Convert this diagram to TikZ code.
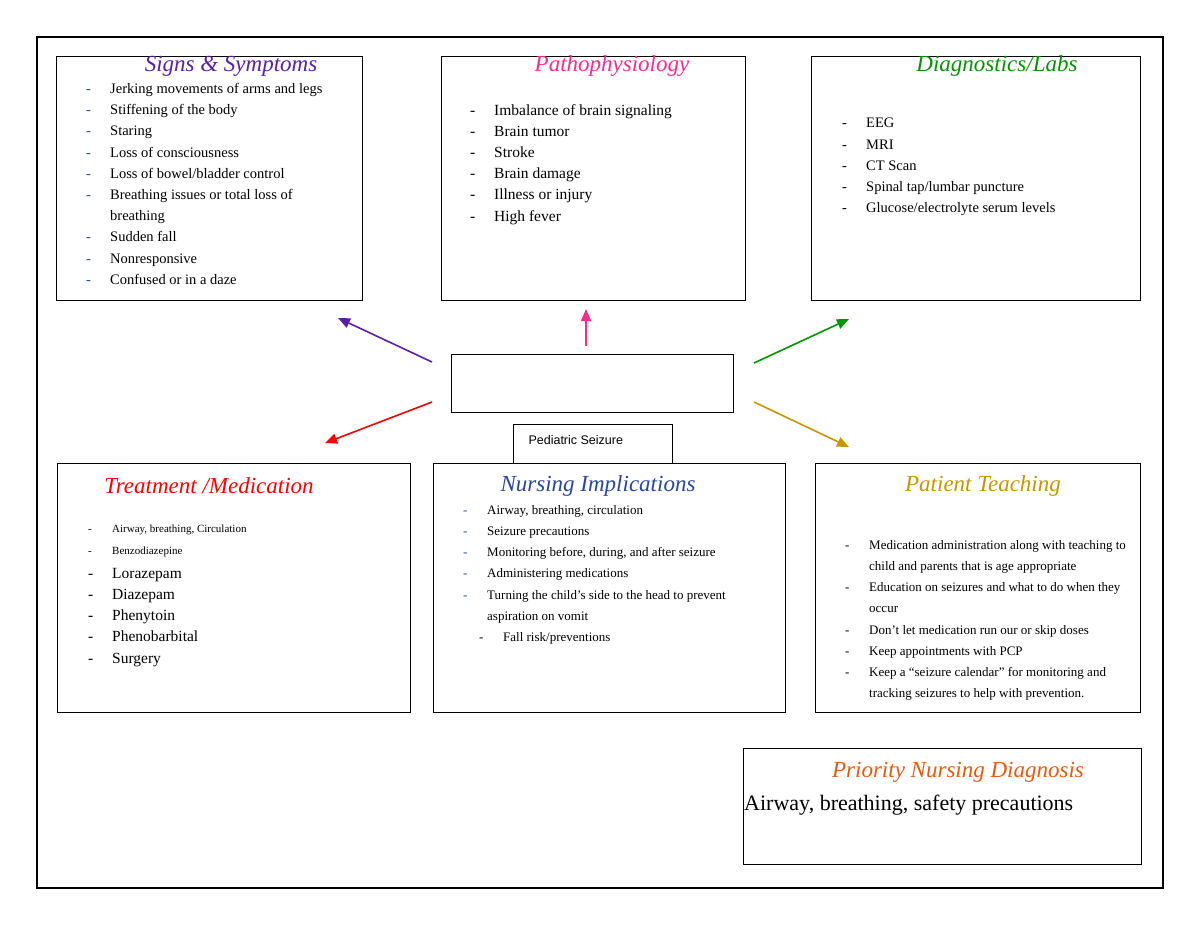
\documentclass[tikz,border=0pt]{standalone}
\usepackage{fontspec}
\setmainfont{Liberation Serif}
\newfontfamily\sansf{Liberation Sans}
\usetikzlibrary{arrows.meta}
\definecolor{cpur}{RGB}{90,30,170}
\definecolor{cpink}{RGB}{255,40,140}
\definecolor{cgreen}{RGB}{0,150,0}
\definecolor{cred}{RGB}{255,0,0}
\definecolor{cblue}{RGB}{40,70,160}
\definecolor{cgold}{RGB}{200,150,0}
\definecolor{corange}{RGB}{230,90,10}
\newcommand{\dd}[1]{\makebox[24pt][l]{\textcolor{#1}{-}}}
\begin{document}
\begin{tikzpicture}[x=1pt,y=-1pt,
  box/.style={draw,line width=0.8pt},
  ttl/.style={font=\fontsize{23}{24}\selectfont\itshape},
  lst/.style={anchor=north west,align=left,inner sep=0pt,font=\fontsize{14.5}{21.2}\selectfont},
  arr/.style={-{Triangle[length=12pt,width=10pt]},line width=1.6pt}]
\useasboundingbox (0,0) rectangle (1200,927);
\draw[line width=1.5pt] (37,37) rectangle (1163,888);
\node[box,minimum width=306pt,minimum height=244pt,anchor=north west] (ss) at (56,56) {};
\node[box,minimum width=304pt,minimum height=244pt,anchor=north west] (pp) at (441,56) {};
\node[box,minimum width=329pt,minimum height=244pt,anchor=north west] (dl) at (811,56) {};
\node[box,minimum width=282pt,minimum height=58pt,anchor=north west] (c) at (451,354) {};
\node[box,minimum width=159pt,minimum height=39pt,anchor=north west] (lab) at (513,424) {};
\node[anchor=west,font=\sansf\fontsize{12.5}{14}\selectfont] (labt) at (525,440) {Pediatric Seizure};
\node[box,minimum width=353pt,minimum height=249pt,anchor=north west] (tm) at (57,463) {};
\node[box,minimum width=352pt,minimum height=249pt,anchor=north west] (ni) at (433,463) {};
\node[box,minimum width=325pt,minimum height=249pt,anchor=north west] (pt) at (815,463) {};
\node[box,minimum width=398pt,minimum height=116pt,anchor=north west] (pr) at (743,748) {};

\node[ttl,text=cpur] (t1) at (231,66) {Signs \& Symptoms};
\node[ttl,text=cpink] (t2) at (612,66) {Pathophysiology};
\node[ttl,text=cgreen] (t3) at (997,66) {Diagnostics/Labs};
\node[ttl,text=cred] (t4) at (209,486) {Treatment /Medication};
\node[ttl,text=cblue] (t5) at (598,486) {Nursing Implications};
\node[ttl,text=cgold] (t6) at (983,486) {Patient Teaching};
\node[ttl,text=corange] (t7) at (958,772) {Priority Nursing Diagnosis};
\node[anchor=west,inner sep=0pt,font=\fontsize{22}{24}\selectfont] (prt) at (744,805) {Airway, breathing, safety precautions};

\node[lst] (l1) at (86,83) {\dd{cblue}Jerking movements of arms and legs\\
\dd{cblue}Stiffening of the body\\ \dd{cblue}Staring\\ \dd{cblue}Loss of consciousness\\
\dd{cblue}Loss of bowel/bladder control\\ \dd{cblue}Breathing issues or total loss of\\
\hspace*{24pt}breathing\\ \dd{cblue}Sudden fall\\ \dd{cblue}Nonresponsive\\ \dd{cblue}Confused or in a daze};
\node[lst,font=\fontsize{15.5}{21.2}\selectfont] (l2) at (470,104) {\dd{black}Imbalance of brain signaling\\
\dd{black}Brain tumor\\ \dd{black}Stroke\\ \dd{black}Brain damage\\ \dd{black}Illness or injury\\ \dd{black}High fever};
\node[lst] (l3) at (842,118) {\dd{black}EEG\\ \dd{black}MRI\\ \dd{black}CT Scan\\
\dd{black}Spinal tap/lumbar puncture\\ \dd{black}Glucose/electrolyte serum levels};
\node[lst,font=\fontsize{11}{21.2}\selectfont] (l4a) at (88,525) {\dd{black}Airway, breathing, Circulation\\ \dd{black}Benzodiazepine};
\node[lst,font=\fontsize{15.5}{21.2}\selectfont] (l4) at (88,568) {\dd{black}Lorazepam\\ \dd{black}Diazepam\\
\dd{black}Phenytoin\\ \dd{black}Phenobarbital\\ \dd{black}Surgery};
\node[lst,font=\fontsize{13}{21.2}\selectfont] (l5) at (463,505) {\dd{cblue}Airway, breathing, circulation\\
\dd{cblue}Seizure precautions\\ \dd{cblue}Monitoring before, during, and after seizure\\
\dd{cblue}Administering medications\\ \dd{cblue}Turning the child's side to the head to prevent\\
\hspace*{24pt}aspiration on vomit\\ \hspace*{16pt}\dd{black}Fall risk/preventions};
\node[lst,font=\fontsize{13}{21.2}\selectfont] (l6) at (845,540) {\dd{black}Medication administration along with teaching to\\
\hspace*{24pt}child and parents that is age appropriate\\
\dd{black}Education on seizures and what to do when they\\ \hspace*{24pt}occur\\
\dd{black}Don't let medication run our or skip doses\\ \dd{black}Keep appointments with PCP\\
\dd{black}Keep a ``seizure calendar'' for monitoring and\\ \hspace*{24pt}tracking seizures to help with prevention.};

\coordinate (a1) at (432,362); \coordinate (b1) at (338,318);
\coordinate (a2) at (586,346); \coordinate (b2) at (586,309);
\coordinate (a3) at (754,363); \coordinate (b3) at (849,319);
\coordinate (a4) at (432,402); \coordinate (b4) at (325,443);
\coordinate (a5) at (754,402); \coordinate (b5) at (849,447);
\draw[arr,cpur] (a1) -- (b1);
\draw[arr,cpink] (a2) -- (b2);
\draw[arr,cgreen] (a3) -- (b3);
\draw[arr,cred] (a4) -- (b4);
\draw[arr,cgold] (a5) -- (b5);
\end{tikzpicture}
\end{document}
